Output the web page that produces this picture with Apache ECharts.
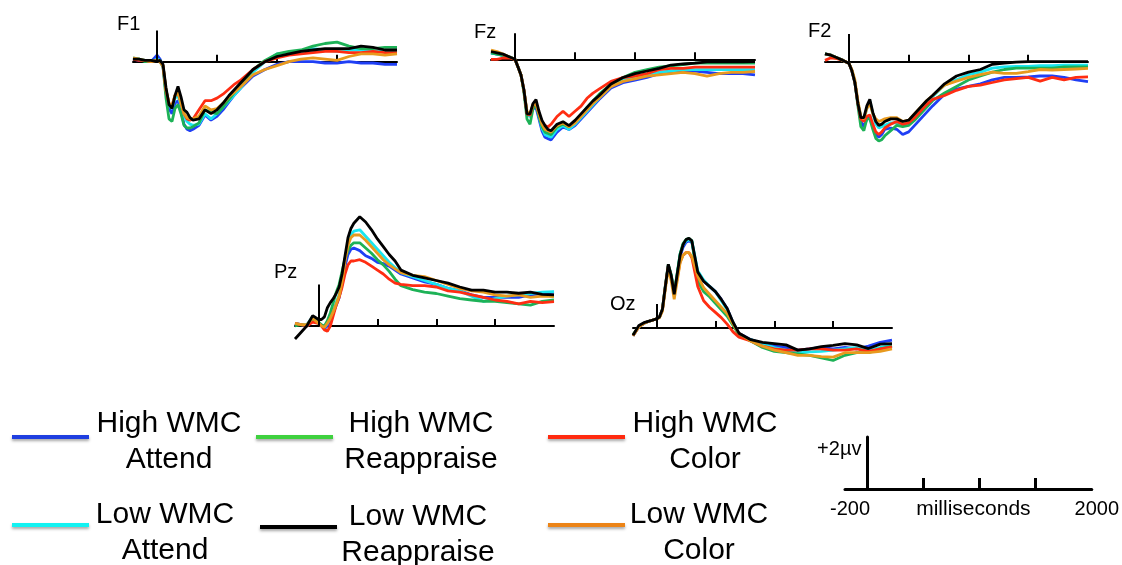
<!DOCTYPE html>
<html>
<head>
<meta charset="utf-8">
<style>
  html, body { margin: 0; padding: 0; background: #fff; }
  #chart { width: 1122px; height: 565px; }
</style>
<script src="https://cdn.jsdelivr.net/npm/echarts@6/dist/echarts.min.js"></script>
</head>
<body>
<div id="chart"></div>
<script>
// sample times (ms) shared by every waveform
var times = [-200, -150, -100, -50, 0,
  25, 50, 75, 100, 125, 150, 175, 200, 225, 250, 275, 300,
  350, 400, 450, 500, 550, 600, 650, 700,
  800, 900, 1000, 1100, 1200, 1300, 1400, 1500, 1600, 1700, 1800, 1900, 2000];

var conditions = ['High WMC Attend', 'High WMC Reappraise', 'High WMC Color',
  'Low WMC Attend', 'Low WMC Reappraise', 'Low WMC Color'];

// microvolts, rows in the same order as conditions
var f1Values = [
  [0.1, 0.05, 0.05, 0.0, 0.25, 0.1, -0.2, -1.2, -1.8, -2.0, -1.6, -1.5, -1.9, -2.4, -2.6, -2.65, -2.6, -2.45, -2.05, -2.25, -2.1, -1.85, -1.55, -1.25, -1.0, -0.55, -0.3, -0.1, 0.0, 0.0, 0.0, -0.05, -0.05, 0.0, -0.05, -0.05, -0.1, -0.1],
  [0.1, 0.1, 0.0, 0.0, 0.05, 0.0, -0.2, -1.4, -2.2, -2.3, -1.8, -1.65, -2.0, -2.45, -2.55, -2.55, -2.5, -2.35, -1.85, -1.95, -2.0, -1.75, -1.45, -1.15, -0.9, -0.3, 0.05, 0.3, 0.4, 0.45, 0.6, 0.7, 0.75, 0.6, 0.5, 0.5, 0.55, 0.55],
  [0.1, 0.05, 0.05, 0.0, 0.05, 0.0, -0.15, -1.1, -1.6, -1.7, -1.3, -1.15, -1.6, -2.0, -2.2, -2.25, -2.2, -1.85, -1.5, -1.5, -1.4, -1.25, -1.05, -0.85, -0.7, -0.3, 0.0, 0.15, 0.25, 0.3, 0.35, 0.4, 0.4, 0.35, 0.35, 0.4, 0.35, 0.35],
  [0.15, 0.1, 0.05, 0.0, 0.1, 0.05, -0.15, -1.1, -1.7, -1.8, -1.4, -1.3, -1.7, -2.1, -2.3, -2.4, -2.45, -2.4, -2.0, -2.2, -2.0, -1.75, -1.5, -1.25, -1.0, -0.4, 0.0, 0.3, 0.35, 0.4, 0.5, 0.45, 0.4, 0.45, 0.45, 0.4, 0.4, 0.45],
  [0.1, 0.1, 0.05, 0.05, 0.0, 0.05, -0.1, -1.0, -1.65, -1.8, -1.3, -0.95, -1.35, -1.85, -1.95, -2.15, -2.25, -2.2, -1.85, -2.0, -1.85, -1.6, -1.3, -1.05, -0.8, -0.3, 0.0, 0.2, 0.3, 0.4, 0.45, 0.5, 0.5, 0.5, 0.6, 0.55, 0.45, 0.45],
  [0.15, 0.1, 0.05, 0.0, 0.05, 0.0, -0.15, -1.1, -1.6, -1.7, -1.3, -1.2, -1.6, -2.0, -2.15, -2.2, -2.2, -2.1, -1.7, -1.85, -1.8, -1.6, -1.35, -1.15, -0.95, -0.5, -0.3, -0.15, 0.0, 0.1, 0.15, 0.1, 0.05, 0.2, 0.3, 0.3, 0.25, 0.3]
];

var fzValues = [
  [0.25, 0.2, 0.15, 0.1, 0.0, -0.3, -0.6, -1.2, -2.1, -2.2, -1.9, -1.85, -2.3, -2.75, -3.0, -3.05, -3.1, -2.8, -2.6, -2.7, -2.55, -2.3, -2.05, -1.8, -1.55, -1.1, -0.9, -0.8, -0.7, -0.55, -0.5, -0.45, -0.45, -0.5, -0.55, -0.55, -0.55, -0.6],
  [0.25, 0.2, 0.15, 0.1, 0.0, -0.3, -0.6, -1.3, -2.3, -2.5, -1.9, -1.75, -2.2, -2.6, -2.8, -2.85, -2.9, -2.6, -2.5, -2.6, -2.4, -2.15, -1.85, -1.6, -1.35, -0.95, -0.7, -0.5, -0.4, -0.3, -0.25, -0.2, -0.15, -0.15, -0.15, -0.15, -0.15, -0.15],
  [0.0, 0.0, 0.05, 0.05, 0.0, -0.3, -0.6, -1.2, -2.1, -2.15, -1.75, -1.7, -2.1, -2.4, -2.55, -2.6, -2.5, -2.2, -2.0, -2.2, -2.0, -1.8, -1.5, -1.3, -1.15, -0.85, -0.7, -0.65, -0.55, -0.4, -0.35, -0.35, -0.3, -0.3, -0.3, -0.3, -0.3, -0.3],
  [0.25, 0.2, 0.15, 0.1, 0.0, -0.3, -0.6, -1.2, -2.1, -2.2, -1.8, -1.7, -2.2, -2.65, -2.9, -2.95, -3.0, -2.7, -2.55, -2.7, -2.5, -2.25, -2.0, -1.75, -1.5, -1.05, -0.8, -0.65, -0.6, -0.5, -0.45, -0.4, -0.4, -0.4, -0.4, -0.4, -0.4, -0.4],
  [0.3, 0.25, 0.2, 0.1, 0.0, -0.3, -0.6, -1.2, -2.1, -2.1, -1.7, -1.55, -2.0, -2.35, -2.55, -2.7, -2.75, -2.5, -2.4, -2.55, -2.35, -2.1, -1.85, -1.6, -1.4, -0.95, -0.7, -0.55, -0.45, -0.35, -0.22, -0.18, -0.15, -0.1, -0.1, -0.1, -0.1, -0.09],
  [0.35, 0.3, 0.2, 0.1, 0.0, -0.3, -0.6, -1.2, -2.0, -2.1, -1.75, -1.7, -2.1, -2.5, -2.7, -2.75, -2.8, -2.55, -2.45, -2.6, -2.45, -2.2, -1.95, -1.7, -1.5, -1.05, -0.85, -0.75, -0.65, -0.6, -0.55, -0.5, -0.55, -0.65, -0.55, -0.5, -0.5, -0.47]
];

var f2Values = [
  [0.3, 0.25, 0.15, 0.05, -0.06, -0.35, -0.8, -1.6, -2.3, -2.5, -2.2, -2.15, -2.5, -2.8, -2.9, -2.8, -2.6, -2.55, -2.6, -2.8, -2.7, -2.45, -2.2, -1.95, -1.7, -1.25, -1.05, -0.95, -0.85, -0.7, -0.6, -0.6, -0.58, -0.55, -0.55, -0.6, -0.7, -0.77],
  [0.3, 0.25, 0.15, 0.05, -0.06, -0.35, -0.8, -1.7, -2.5, -2.65, -2.2, -2.2, -2.6, -2.95, -3.05, -3.0, -2.85, -2.65, -2.45, -2.5, -2.45, -2.25, -2.0, -1.75, -1.5, -1.2, -0.95, -0.7, -0.55, -0.4, -0.3, -0.25, -0.25, -0.25, -0.25, -0.2, -0.2, -0.2],
  [0.05, 0.15, 0.12, 0.05, -0.06, -0.35, -0.8, -1.6, -2.2, -2.3, -2.1, -2.05, -2.4, -2.7, -2.8, -2.7, -2.55, -2.4, -2.3, -2.4, -2.35, -2.15, -1.9, -1.65, -1.45, -1.3, -1.1, -0.95, -0.9, -0.8, -0.7, -0.65, -0.6, -0.75, -0.6, -0.7, -0.6, -0.58],
  [0.3, 0.25, 0.15, 0.05, -0.06, -0.35, -0.8, -1.6, -2.1, -2.2, -1.8, -1.5, -2.0, -2.4, -2.55, -2.5, -2.45, -2.35, -2.35, -2.45, -2.35, -2.1, -1.85, -1.55, -1.35, -0.9, -0.7, -0.5, -0.4, -0.25, -0.2, -0.18, -0.18, -0.15, -0.15, -0.13, -0.13, -0.13],
  [0.3, 0.25, 0.15, 0.05, -0.06, -0.35, -0.8, -1.6, -2.15, -2.15, -1.7, -1.45, -1.95, -2.3, -2.45, -2.4, -2.3, -2.2, -2.2, -2.3, -2.25, -2.0, -1.75, -1.5, -1.3, -0.85, -0.55, -0.4, -0.3, -0.1, -0.05, -0.02, 0.0, 0.0, 0.0, 0.0, 0.0, 0.0],
  [0.3, 0.25, 0.15, 0.05, -0.06, -0.3, -0.7, -1.5, -2.1, -2.2, -1.8, -1.6, -2.0, -2.2, -2.3, -2.25, -2.2, -2.15, -2.15, -2.3, -2.25, -2.0, -1.75, -1.5, -1.3, -0.9, -0.75, -0.6, -0.5, -0.4, -0.45, -0.45, -0.38, -0.3, -0.32, -0.3, -0.28, -0.26]
];

var pzValues = [
  [0.1, 0.05, 0.0, 0.2, 0.1, 0.0, -0.1, 0.0, 0.2, 0.5, 0.8, 1.1, 1.6, 2.3, 2.75, 2.95, 3.0, 2.9, 2.7, 2.6, 2.45, 2.4, 2.3, 2.15, 2.0, 1.85, 1.7, 1.6, 1.45, 1.35, 1.2, 1.1, 1.1, 1.1, 1.1, 1.2, 1.25, 1.3],
  [0.0, 0.05, 0.0, 0.2, 0.15, 0.05, 0.0, 0.2, 0.5, 0.9, 1.3, 1.6, 2.1, 2.6, 2.9, 3.1, 3.2, 3.2, 3.0, 2.8, 2.55, 2.35, 2.1, 1.8, 1.55, 1.4, 1.3, 1.25, 1.15, 1.05, 1.0, 0.95, 0.95, 0.9, 0.85, 0.8, 0.95, 1.0],
  [0.1, 0.05, 0.0, 0.15, 0.1, 0.0, -0.15, -0.2, 0.0, 0.4, 0.8, 1.1, 1.5, 2.0, 2.35, 2.5, 2.5, 2.55, 2.45, 2.3, 2.15, 2.0, 1.8, 1.65, 1.6, 1.55, 1.55, 1.5, 1.35, 1.3, 1.2, 1.1, 1.0, 0.95, 0.85, 0.95, 0.9, 0.94],
  [0.1, 0.05, 0.05, 0.35, 0.15, 0.0, -0.05, 0.1, 0.3, 0.6, 0.9, 1.2, 1.8, 2.6, 3.2, 3.5, 3.65, 3.7, 3.45, 3.2, 2.95, 2.7, 2.45, 2.25, 2.05, 1.9, 1.75, 1.6, 1.45, 1.35, 1.15, 0.95, 1.05, 1.15, 1.2, 1.25, 1.3, 1.32],
  [-0.5, -0.25, 0.0, 0.4, 0.25, 0.25, 0.35, 0.7, 0.9, 1.05, 1.25, 1.5, 2.0, 2.7, 3.4, 3.75, 3.95, 4.2, 4.0, 3.7, 3.35, 3.05, 2.75, 2.5, 2.15, 1.95, 1.85, 1.75, 1.65, 1.5, 1.38, 1.38, 1.3, 1.3, 1.26, 1.3, 1.22, 1.2],
  [0.1, 0.05, 0.05, 0.3, 0.1, 0.0, -0.05, 0.1, 0.3, 0.55, 0.85, 1.15, 1.7, 2.5, 3.1, 3.4, 3.5, 3.5, 3.3, 3.05, 2.8, 2.55, 2.35, 2.2, 2.05, 1.95, 1.9, 1.75, 1.6, 1.45, 1.35, 1.3, 1.2, 1.15, 1.2, 1.1, 1.15, 1.13]
];

var ozValues = [
  [-0.3, 0.05, 0.2, 0.28, 0.35, 0.42, 0.7, 1.6, 2.4, 2.0, 1.3, 2.0, 2.75, 3.1, 3.3, 3.35, 3.3, 2.1, 1.8, 1.6, 1.4, 1.1, 0.75, 0.2, -0.2, -0.45, -0.6, -0.7, -0.75, -0.85, -0.8, -0.75, -0.8, -0.75, -0.8, -0.7, -0.55, -0.47],
  [-0.25, 0.05, 0.2, 0.28, 0.35, 0.42, 0.72, 1.65, 2.45, 2.05, 1.35, 2.1, 2.85, 3.25, 3.4, 3.45, 3.35, 1.8, 1.4, 1.2, 0.95, 0.7, 0.45, 0.1, -0.25, -0.5, -0.75, -0.9, -0.95, -1.0, -1.05, -1.15, -1.25, -1.05, -0.95, -0.95, -0.8, -0.7],
  [-0.3, 0.05, 0.2, 0.28, 0.35, 0.42, 0.7, 1.6, 2.4, 1.95, 1.3, 1.9, 2.55, 2.8, 2.9, 2.9, 2.7, 1.6, 1.05, 0.8, 0.6, 0.4, 0.15, -0.15, -0.35, -0.5, -0.7, -0.8, -0.85, -0.85, -0.8, -0.8, -0.85, -0.85, -0.8, -0.9, -0.8, -0.73],
  [-0.3, 0.05, 0.2, 0.28, 0.35, 0.42, 0.72, 1.6, 2.4, 2.0, 1.3, 2.05, 2.85, 3.2, 3.35, 3.4, 3.35, 2.2, 1.85, 1.6, 1.4, 1.05, 0.7, 0.2, -0.3, -0.45, -0.6, -0.75, -0.85, -0.95, -0.92, -0.9, -0.85, -0.8, -0.75, -0.85, -0.75, -0.67],
  [-0.28, 0.1, 0.22, 0.28, 0.35, 0.42, 0.72, 1.6, 2.45, 2.0, 1.3, 2.05, 2.8, 3.2, 3.4, 3.45, 3.35, 2.15, 1.8, 1.6, 1.4, 1.1, 0.75, 0.22, -0.2, -0.45, -0.55, -0.6, -0.65, -0.85, -0.8, -0.72, -0.67, -0.6, -0.65, -0.79, -0.62, -0.6],
  [-0.3, 0.05, 0.2, 0.28, 0.35, 0.4, 0.65, 1.5, 2.3, 1.8, 1.1, 1.8, 2.5, 2.8, 2.9, 2.9, 2.75, 2.0, 1.55, 1.3, 1.05, 0.8, 0.55, 0.15, -0.2, -0.5, -0.7, -0.85, -0.95, -1.05, -1.05, -1.1, -1.12, -0.95, -0.95, -0.95, -0.9, -0.8]
];

var panelNames = ['F1', 'Fz', 'F2', 'Pz', 'Oz'];
var panelValues = [f1Values, fzValues, f2Values, pzValues, ozValues];
var axisTicks = [500, 1000, 1500];
var scaleLabels = [-200, 2000];

// ---- styling / layout ----
var FONT = '"Liberation Sans", Arial, Helvetica, sans-serif';
var PX_PER_UV = 26;
var lineColors = ['#1f3ff5', '#1db257', '#ff2d12', '#19e6f0', '#000000', '#e89a1e'];
var swatchColors = ['#1f3fe0', '#3fd13f', '#ff2a0f', '#12f2f2', '#000000', '#ec8417'];
var drawOrder = [0, 3, 1, 2, 5, 4];

var panelBoxes = [
  { left: 133, width: 264, zeroY: 61.7, yMin: -3.5, yMax: 1.5, onset: 1.2, labelLeft: 117, labelTop: 14 },
  { left: 491, width: 264, zeroY: 59.3, yMin: -3.5, yMax: 1.5, onset: 1.0, labelLeft: 474, labelTop: 22 },
  { left: 825, width: 263, zeroY: 61.7, yMin: -3.5, yMax: 1.5, onset: 1.07, labelLeft: 808, labelTop: 21 },
  { left: 295, width: 259, zeroY: 326, yMin: -1.5, yMax: 5, onset: 1.6, labelLeft: 274, labelTop: 262 },
  { left: 633, width: 259, zeroY: 328, yMin: -1.5, yMax: 4.5, onset: 0.92, labelLeft: 610, labelTop: 294 }
];

// textPad pushes the two text lines down relative to the swatch
var legendBoxes = [
  { left: 12, top: 409, textWidth: 150, textPad: 10 },
  { left: 256, top: 409, textWidth: 166, textPad: 10 },
  { left: 548, top: 409, textWidth: 150, textPad: 10 },
  { left: 12, top: 500, textWidth: 142, textPad: 16 },
  { left: 260, top: 502, textWidth: 152, textPad: 16 },
  { left: 548, top: 500, textWidth: 138, textPad: 16 }
];

var grids = [], xAxes = [], yAxes = [], series = [], titles = [], legends = [];

panelBoxes.forEach(function (box, p) {
  grids.push({
    left: box.left,
    width: box.width,
    top: box.zeroY - box.yMax * PX_PER_UV,
    height: (box.yMax - box.yMin) * PX_PER_UV
  });
  xAxes.push({
    gridIndex: p,
    type: 'value',
    min: -200,
    max: 2000,
    axisLine: { onZero: true, lineStyle: { color: '#000', width: 2 } },
    axisTick: { show: true, inside: true, length: 7, customValues: axisTicks, lineStyle: { color: '#000', width: 2 } },
    axisLabel: { show: false },
    splitLine: { show: false }
  });
  yAxes.push({
    gridIndex: p,
    type: 'value',
    min: box.yMin,
    max: box.yMax,
    axisLine: { show: false },
    axisTick: { show: false },
    axisLabel: { show: false },
    splitLine: { show: false }
  });
  titles.push({
    text: panelNames[p],
    left: box.labelLeft,
    top: box.labelTop,
    padding: 0,
    textStyle: { fontSize: 20, fontWeight: 'normal', color: '#000', fontFamily: FONT }
  });
  // stimulus onset marker
  series.push({
    type: 'line',
    name: 'onset',
    xAxisIndex: p,
    yAxisIndex: p,
    data: [],
    silent: true,
    markLine: {
      silent: true,
      symbol: 'none',
      animation: false,
      label: { show: false },
      lineStyle: { color: '#000', width: 2, type: 'solid' },
      data: [[{ coord: [0, 0] }, { coord: [0, box.onset] }]]
    }
  });
  drawOrder.forEach(function (c) {
    series.push({
      type: 'line',
      name: conditions[c],
      xAxisIndex: p,
      yAxisIndex: p,
      symbol: 'none',
      silent: true,
      lineStyle: { color: lineColors[c], width: 2.8 },
      itemStyle: { color: lineColors[c] },
      data: times.map(function (t, i) { return [t, panelValues[p][c][i]]; })
    });
  });
});

// scale bar
var s = panelBoxes.length;
grids.push({ left: 845, width: 251, top: 437, height: 52 });
xAxes.push({
  gridIndex: s,
  type: 'value',
  min: -200,
  max: 2000,
  name: 'milliseconds',
  nameLocation: 'middle',
  nameGap: 10,
  nameMoveOverlap: false,
  nameTextStyle: { fontSize: 21, color: '#000', fontFamily: FONT, verticalAlign: 'top', padding: [0, 0, 0, 10] },
  axisLine: { onZero: true, lineStyle: { color: '#000', width: 3 } },
  axisTick: { show: true, inside: true, length: 11, customValues: axisTicks, lineStyle: { color: '#000', width: 3 } },
  axisLabel: {
    show: true,
    customValues: scaleLabels,
    margin: 10,
    padding: [0, 0, 0, 10],
    fontSize: 20,
    color: '#000',
    fontFamily: FONT,
    formatter: function (v) { return String(v); }
  },
  splitLine: { show: false }
});
yAxes.push({
  gridIndex: s,
  type: 'value',
  min: 0,
  max: 2,
  name: '+2\u00b5v',
  nameLocation: 'end',
  nameGap: -2,
  nameTextStyle: { fontSize: 20, color: '#000', fontFamily: FONT, align: 'right', verticalAlign: 'top', padding: [0, 6, 0, 0] },
  axisLine: { show: true, onZero: true, lineStyle: { color: '#000', width: 3 } },
  axisTick: { show: false },
  axisLabel: { show: false },
  splitLine: { show: false }
});

legendBoxes.forEach(function (box, c) {
  var name = conditions[c];
  var cut = name.lastIndexOf(' ');
  legends.push({
    left: box.left,
    top: box.top,
    padding: 0,
    icon: 'rect',
    itemWidth: 77,
    itemHeight: 4,
    selectedMode: false,
    data: [{
      name: name,
      itemStyle: { color: swatchColors[c], borderWidth: 0, shadowBlur: 3, shadowColor: 'rgba(0,0,0,0.35)', shadowOffsetY: 2 }
    }],
    formatter: function () {
      return '{t|' + name.slice(0, cut) + '}\n{t|' + name.slice(cut + 1) + '}';
    },
    textStyle: {
      padding: [box.textPad, 0, 0, 0],
      rich: {
        t: { fontSize: 30, lineHeight: 36, width: box.textWidth, align: 'center', color: '#000', fontFamily: FONT }
      }
    }
  });
});

var chart = echarts.init(document.getElementById('chart'), null, { renderer: 'canvas' });
chart.setOption({
  animation: false,
  backgroundColor: '#fff',
  textStyle: { fontFamily: FONT },
  title: titles,
  legend: legends,
  grid: grids,
  xAxis: xAxes,
  yAxis: yAxes,
  series: series
});
</script>
</body>
</html>
